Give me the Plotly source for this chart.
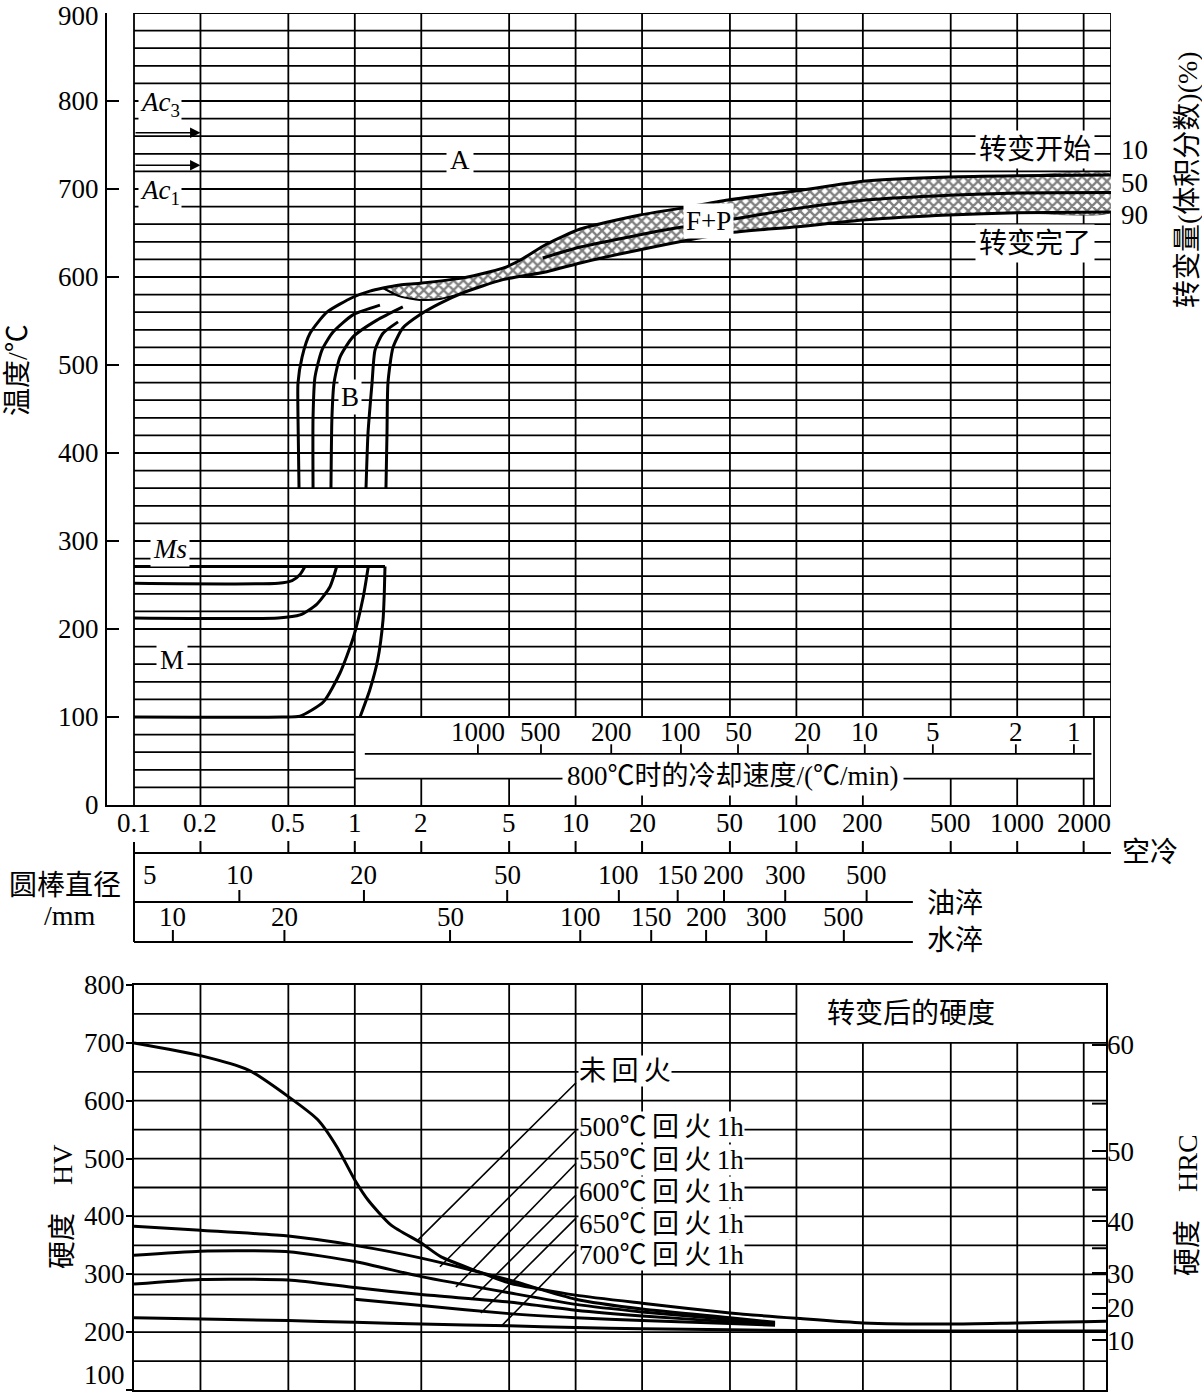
import numpy as np
import plotly.graph_objects as go

W, H = 1202, 1393
SERIF = "Liberation Serif, Noto Sans CJK SC, serif"
L = np.log10

# ---------------- data ----------------
# cooling time axis (log)
x_ticks = [0.1, 0.2, 0.5, 1, 2, 5, 10, 20, 50, 100, 200, 500, 1000, 2000]
x_tick_text = ["0.1", "0.2", "0.5", "1", "2", "5", "10", "20", "50", "100", "200", "500", "1000", "2000"]
t_end_top = 2660
t_end_bottom = 2523
temp_ticks = [0, 100, 200, 300, 400, 500, 600, 700, 800, 900]
hv_ticks = [100, 200, 300, 400, 500, 600, 700, 800]

# critical temperatures
ac3_T = 764
ac1_T = 727
ms_T = 271

# transformation start (10 %) incl. bainite start branch
start_t = [0.559, 0.553, 0.553, 0.577, 0.627, 0.748, 0.981, 1.17, 1.342, 1.60, 1.97, 3.09, 4.1, 4.69,
           5.6, 7.4, 10.5, 19.6, 29.7, 49, 100.7, 206, 490, 1004, 2660]
start_T = [360, 441, 479.5, 509, 536, 560, 577, 584, 587.5, 591, 593, 599, 606, 610,
           619, 637.5, 654.5, 670.5, 678, 687.5, 698, 709, 713.6, 715, 716]
# 50 %
mid_t = [7.1, 10.5, 19.6, 27.6, 55.5, 100.7, 206, 490, 1004, 2660]
mid_T = [621.6, 634, 648, 655, 667, 678, 687.5, 693, 695.5, 696]
# transformation finish (90 %) incl. bainite branch
finish_t = [1.384, 1.399, 1.413, 1.49, 1.65, 1.97, 2.43, 3.09, 4.69, 7.4, 10.5, 19.6, 49, 100.7,
            206, 490, 1004, 2660]
finish_T = [360, 423, 479.5, 520, 542, 557, 570, 582, 597, 606, 616, 631, 650, 657,
            665, 670.5, 673, 674]
# lower edge of the hatched nose
nose_t = [1.342, 1.60, 1.97, 2.43, 3.09]
nose_T = [587.5, 578, 574, 575, 582]

# intermediate bainite curves
b2_t = [0.647, 0.647, 0.660, 0.710, 0.797, 0.981, 1.30]
b2_T = [360, 441, 486, 517, 537.5, 557, 568]
b3_t = [0.780, 0.788, 0.805, 0.857, 0.981, 1.26, 1.65]
b3_T = [360, 441, 479.5, 509, 532, 551, 566]
b4_t = [1.124, 1.148, 1.197, 1.235, 1.342, 1.57]
b4_T = [360, 423, 479.5, 517, 536, 549]

# martensite curves
ms_t = [0.1, 1.37]
ma_t = [0.1, 0.45, 0.52, 0.565, 0.595]
ma_T = [252, 252, 255, 262, 271]
mb_t = [0.1, 0.45, 0.565, 0.672, 0.772, 0.828]
mb_T = [212.6, 212.6, 216, 228, 248, 271]
mc_t = [0.1, 0.468, 0.565, 0.72, 0.857, 0.984, 1.093, 1.151]
mc_T = [100, 100, 101, 117, 150, 190, 237, 271]
md_t = [1.37, 1.36, 1.342, 1.27, 1.17, 1.056]
md_T = [271, 240, 210, 165, 131, 100]

# cooling rate at 800 C (inset scale)
rate_labels = ["1000", "500", "200", "100", "50", "20", "10", "5", "2", "1"]
rate_time = [3.61, 6.97, 14.5, 30.0, 54.4, 112.6, 204, 415, 986, 1807]

# bar diameter scales
oil_labels = ["5", "10", "20", "50", "100", "150", "200", "300", "500"]
oil_time = [0.1, 0.3, 1.1, 4.9, 15.7, 29, 47, 89, 208]
water_labels = ["10", "20", "50", "100", "150", "200", "300", "500"]
water_time = [0.15, 0.48, 2.7, 10.5, 22, 39, 73, 164]
quench_scale_end = 337

# hardness after transformation (HV)
hv_none_t = [0.1, 0.2, 0.33, 0.5, 0.68, 0.83, 1.0, 1.15, 1.46, 2.0, 2.46, 3.65, 5.0, 10, 20, 50,
             100, 200, 500, 1000, 2000, 2523]
hv_none = [700, 678, 653, 607, 567, 520, 463, 428, 385, 354, 330, 304, 285, 264, 250, 233,
           224, 216, 214, 216, 218, 219]
hv_t = [0.1, 0.2, 0.5, 1, 2, 5, 10, 20, 50, 80]
hv_500 = [383, 376, 366, 350, 328, 290, 257, 240, 225, 217]
hv_550 = [333, 340, 339, 322, 296, 268, 248, 235, 222, 215]
hv_600 = [283, 291, 290, 277, 265, 252, 238, 228, 218, 213]
hv_650_t = [1, 2, 5, 10, 20, 50, 80]
hv_650 = [257, 246, 232, 225, 220, 215, 212]
hv_700_t = [0.1, 0.5, 1, 2, 5, 10, 20, 50, 100, 500, 2523]
hv_700 = [225, 220, 217, 214, 211, 208, 206, 204, 203, 202, 202]

temper_labels = ["未\u2009回\u2009火", "500℃\u2009回\u2009火\u20091h", "550℃\u2009回\u2009火\u20091h",
                 "600℃\u2009回\u2009火\u20091h", "650℃\u2009回\u2009火\u20091h", "700℃\u2009回\u2009火\u20091h"]
temper_label_hv = [651, 554, 498, 442, 387, 333]
leader_start_t = 10.04
leader_start_hv = [631, 549, 492, 437, 397, 342]
leader_end_t = [1.93, 2.43, 2.87, 3.36, 3.72, 4.65]
leader_end_hv = [359, 313, 278, 256, 233, 212]

hrc_text = ["60", "50", "40", "30", "20", "10"]
hrc_hv = [697, 513, 392, 302, 242, 186]
hrc_minor_hv = [595, 446, 345, 266]

# ---------------- figure ----------------
fig = go.Figure()


def curve(xs, ys, xa="x", ya="y", width=3):
    fig.add_trace(go.Scatter(x=xs, y=ys, mode="lines", xaxis=xa, yaxis=ya,
                             line=dict(color="black", width=width, shape="spline", smoothing=0.6),
                             hoverinfo="skip", showlegend=False))


# hatched F+P band
poly_t = start_t[8:] + finish_t[::-1][:11] + nose_t[::-1][1:]
poly_T = start_T[8:] + finish_T[::-1][:11] + nose_T[::-1][1:]
fig.add_trace(go.Scatter(x=poly_t, y=poly_T, mode="lines", fill="toself",
                         line=dict(width=0.5, color="black", shape="spline", smoothing=0.6),
                         fillcolor="white",
                         fillpattern=dict(shape="x", fgcolor="black", bgcolor="white", size=7, solidity=0.55),
                         hoverinfo="skip", showlegend=False))
curve(start_t, start_T)
curve(mid_t, mid_T)
curve(finish_t, finish_T)
curve(nose_t, nose_T, width=2)
curve(b2_t, b2_T)
curve(b3_t, b3_T)
curve(b4_t, b4_T)
curve(ms_t, [ms_T, ms_T])
curve(ma_t, ma_T)
curve(mb_t, mb_T)
curve(mc_t, mc_T)
curve(md_t, md_T)

# hardness curves
curve(hv_none_t, hv_none, "x2", "y2")
curve(hv_t, hv_500, "x2", "y2")
curve(hv_t, hv_550, "x2", "y2")
curve(hv_t, hv_600, "x2", "y2")
curve(hv_650_t, hv_650, "x2", "y2")
curve(hv_700_t, hv_700, "x2", "y3")

# ---------------- shapes (data values on log axes) ----------------
shapes = []


def seg(x0, y0, x1, y1, xref="x", yref="y", w=1.8, layer="below"):
    shapes.append(dict(type="line", xref=xref, yref=yref, x0=x0, y0=y0, x1=x1, y1=y1,
                       line=dict(color="black", width=w), layer=layer))


inset_top_T = 100
inset_title_T = 30
inset_scale_T = 58
inset_end_t = 2228

# top grid
for T in range(20, 901, 20):
    seg(0.1, T, 1 if T < inset_top_T else t_end_top, T)
for t in x_ticks:
    if t <= 1:
        seg(t, 0, t, 900)
    else:
        seg(t, inset_top_T, t, 900)
        seg(t, 0, t, inset_title_T)
seg(t_end_top, 0, t_end_top, 900)
seg(inset_end_t, 0, inset_end_t, inset_top_T)
seg(1, inset_title_T, inset_end_t, inset_title_T)
seg(1.11, inset_scale_T, 2170, inset_scale_T)
for t in rate_time:
    seg(t, inset_scale_T, t, inset_scale_T + 11)


def PY(py):
    return 1 - py / H


def PX(px):
    return px / W


# scales below top chart (paper y)
air_y, oil_y, water_y = 853, 902, 942
seg(0.1, PY(air_y), t_end_top, PY(air_y), yref="paper", w=2)
seg(0.1, PY(842), 0.1, PY(water_y), yref="paper", w=2)
for t in x_ticks[1:]:
    seg(t, PY(air_y), t, PY(air_y - 12), yref="paper", w=2)
seg(0.1, PY(oil_y), quench_scale_end, PY(oil_y), yref="paper", w=2)
for t in oil_time[1:]:
    seg(t, PY(oil_y), t, PY(oil_y - 12), yref="paper", w=2)
seg(0.1, PY(water_y), quench_scale_end, PY(water_y), yref="paper", w=2)
for t in water_time:
    seg(t, PY(water_y), t, PY(water_y - 12), yref="paper", w=2)

# bottom grid
for hv in [150, 200, 300, 350, 400, 450, 500, 550, 600, 650, 700]:
    seg(0.1, hv, t_end_bottom, hv, "x2", "y2")
seg(0.1, 750, 100, 750, "x2", "y2")
seg(0.1, 265, 1, 265, "x2", "y2")
for t in x_ticks[1:]:
    seg(t, 100, t, 800 if t <= 100 else 700, "x2", "y2")
# HRC unlabeled ticks
for hv in hrc_minor_hv:
    seg(1 - 14 / 972, hv, 1, hv, "x2 domain", "y2", w=2, layer="above")
# leaders
for hs, te, he in zip(leader_start_hv, leader_end_t, leader_end_hv):
    seg(leader_start_t, hs, te, he, "x2", "y2", w=1.6, layer="above")

# ---------------- annotations (log10 positions on log axes) ----------------
ann = []


def txt(text, x, y, xref="paper", yref="paper", size=27, xanchor="center", yanchor="middle",
        bg=None, angle=0, xshift=0, yshift=0, pad=1):
    d = dict(text=text, x=x, y=y, xref=xref, yref=yref, showarrow=False, xanchor=xanchor,
             yanchor=yanchor, textangle=angle, xshift=xshift, yshift=yshift, borderpad=pad,
             font=dict(family=SERIF, size=size, color="black"))
    if bg:
        d["bgcolor"] = bg
    ann.append(d)


# axis tick labels
for lab, t in zip(x_tick_text, x_ticks):
    txt(lab, L(t), PY(823), "x", "paper")
for T in temp_ticks:
    txt(str(T), PX(101), T, "paper", "y", xanchor="right", yshift=-3 if T == 900 else 0)
for hv in hv_ticks:
    txt(str(hv), PX(127), hv, "paper", "y2", xanchor="right", yshift=15 if hv == 100 else 0)

# top chart labels
txt("A", L(2.99), 733, "x", "y", bg="white", pad=3)
txt("B", L(0.95), 464, "x", "y", bg="white", pad=2)
txt("F+P", L(39.8), 664, "x", "y", bg="white", pad=2)
txt("M", L(0.149), 165, "x", "y", bg="white", pad=3)
txt("<i>Ms</i>", L(0.146), 291, "x", "y", bg="white", pad=2)
txt("<i>Ac</i><sub>3</sub>", L(0.1), 797, "x", "y", xanchor="left", xshift=4, bg="white", pad=1)
txt("<i>Ac</i><sub>1</sub>", L(0.1), 697, "x", "y", xanchor="left", xshift=4, bg="white", pad=1)
for T in [ac3_T, ac1_T]:
    ann.append(dict(x=L(0.2), y=T, ax=L(0.1), ay=T, xref="x", yref="y", axref="x", ayref="y",
                    text="", showarrow=True, arrowhead=2, arrowsize=1.3, arrowwidth=1.6,
                    arrowcolor="black"))
txt("转变开始", L(1203), 745, "x", "y", size=28, bg="white", pad=3)
txt("转变完了", L(1203), 638, "x", "y", size=28, bg="white", pad=3)
for lab, py in zip(["10", "50", "90"], [150, 183, 215]):
    txt(lab, PX(1119), PY(py), xanchor="left")
txt("转变量(体积分数)(%)", PX(1187), PY(180), size=28, angle=-90)
txt("温度/℃", PX(17), PY(370), size=28, angle=-90)

# inset cooling rate
for lab, t in zip(rate_labels, rate_time):
    txt(lab, L(t), 83, "x", "y")
txt("800℃时的冷却速度/(℃/min)", L(51.6), 33, "x", "y", bg="white", pad=4)

# diameter scales
txt("空冷", PX(1150), PY(852), size=28)
txt("油淬", PX(955), PY(903), size=28)
txt("水淬", PX(955), PY(940), size=28)
txt("圆棒直径", PX(65), PY(885), size=28)
txt("/mm", PX(70), PY(915), size=28)
for i, (lab, t) in enumerate(zip(oil_labels, oil_time)):
    txt(lab, L(t), PY(875), "x", "paper", xshift=16 if i == 0 else 0)
for lab, t in zip(water_labels, water_time):
    txt(lab, L(t), PY(917), "x", "paper")

# bottom chart labels
txt("转变后的硬度", L(330), 750, "x2", "y2", size=28)
for lab, hv in zip(temper_labels, temper_label_hv):
    txt(lab, L(10.3), hv, "x2", "y2", size=27, xanchor="left", bg="white", pad=0)
txt("硬度\u3000HV", PX(62), PY(1207), size=28, angle=-90)
txt("硬度\u3000HRC", PX(1187), PY(1205), size=28, angle=-90)

# ---------------- layout ----------------
AX = dict(showgrid=False, zeroline=False, linecolor="black", tickcolor="black", automargin=False,
          ticklabeloverflow="allow", tickfont=dict(family=SERIF, size=27, color="black"))
fig.update_layout(
    width=W, height=H, margin=dict(l=0, r=0, t=0, b=0, autoexpand=False),
    paper_bgcolor="white", plot_bgcolor="white", showlegend=False,
    font=dict(family=SERIF, size=27, color="black"),
    xaxis=dict(AX, type="log", domain=[107 / W, 1111 / W], range=[-1.1223, L(t_end_top)],
               anchor="y", showline=True, linewidth=2, showticklabels=False, ticks=""),
    yaxis=dict(AX, domain=[PY(805), PY(13)], range=[0, 900], anchor="x", showline=True,
               linewidth=2, ticks="inside", ticklen=12, tickwidth=2, tickvals=temp_ticks,
               showticklabels=False),
    xaxis2=dict(AX, type="log", domain=[134 / W, 1106 / W], range=[-1, L(t_end_bottom)],
                anchor="y2", showline=True, mirror=True, linewidth=2, showticklabels=False,
                ticks=""),
    yaxis2=dict(AX, domain=[PY(1390), PY(985)], range=[100, 800], anchor="x2", showline=True,
                mirror=True, linewidth=2, ticks="outside", ticklen=6, tickwidth=2, tickvals=hv_ticks,
                showticklabels=False),
    yaxis3=dict(AX, overlaying="y2", anchor="x2", side="right", range=[100, 800],
                tickvals=hrc_hv, ticktext=hrc_text, ticks="inside", ticklen=14, tickwidth=2,
                showline=False),
    shapes=shapes, annotations=ann,
)

fig.write_html("out.html")
